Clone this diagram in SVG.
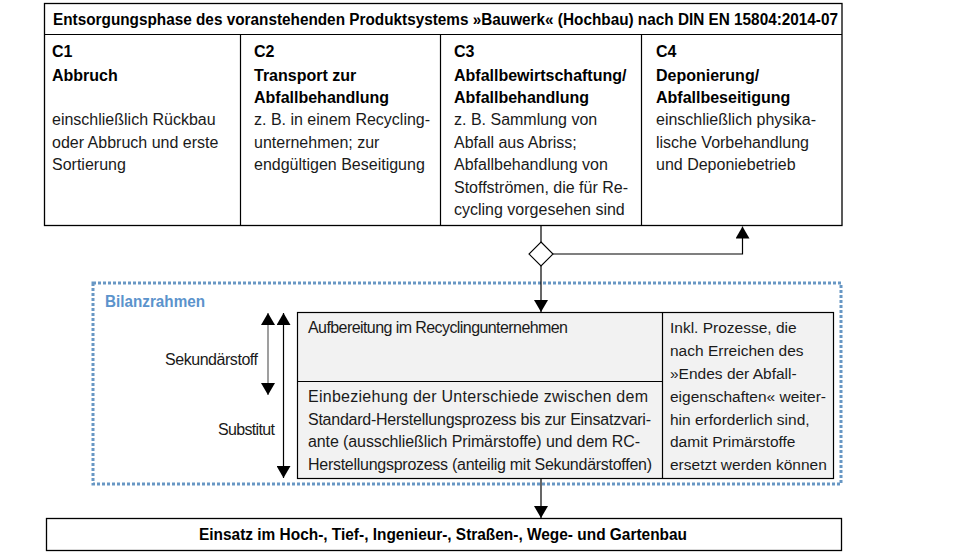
<svg xmlns="http://www.w3.org/2000/svg" width="960" height="552" viewBox="0 0 960 552">
<defs>
<style>
text{font-family:"Liberation Sans",Arial,sans-serif;font-size:16px;fill:#1a1a1a}
.b{font-weight:bold;fill:#000}
.s{font-size:15.5px}
.box{fill:#fff;stroke:#000;stroke-width:1.3}
.gbox{fill:#f2f2f2;stroke:#000;stroke-width:1.2}
.ln{fill:none;stroke:#000;stroke-width:1.2}
.blue{fill:#5b93cc;font-weight:bold}
</style>
<marker id="ah" viewBox="0 0 12 14" refX="12" refY="7" markerWidth="12" markerHeight="14" markerUnits="userSpaceOnUse" orient="auto-start-reverse">
<path d="M0,0 L12,7 L0,14 Z" fill="#000"/>
</marker>
</defs>
<rect width="960" height="552" fill="#fff"/>

<g id="top-box">
<rect class="box" x="44.5" y="3.5" width="797.5" height="222"/>
<line class="ln" x1="44.5" y1="34.5" x2="842" y2="34.5"/>
<line class="ln" x1="240.5" y1="34.5" x2="240.5" y2="225.5"/>
<line class="ln" x1="440.5" y1="34.5" x2="440.5" y2="225.5"/>
<line class="ln" x1="641.5" y1="34.5" x2="641.5" y2="225.5"/>
<text class="b" x="53" y="25" textLength="785" lengthAdjust="spacingAndGlyphs">Entsorgungsphase des voranstehenden Produktsystems »Bauwerk« (Hochbau) nach DIN EN 15804:2014-07</text>
</g>

<g id="c1">
<text class="b" x="52" y="57">C1</text>
<text class="b" x="52" y="81">Abbruch</text>
<text x="52" y="125">einschließlich Rückbau</text>
<text x="52" y="148">oder Abbruch und erste</text>
<text x="52" y="170">Sortierung</text>
</g>

<g id="c2">
<text class="b" x="254" y="57">C2</text>
<text class="b" x="254" y="81">Transport zur</text>
<text class="b" x="254" y="103">Abfallbehandlung</text>
<text x="254" y="125">z. B. in einem Recycling-</text>
<text x="254" y="148">unternehmen; zur</text>
<text x="254" y="170">endgültigen Beseitigung</text>
</g>

<g id="c3">
<text class="b" x="454" y="57">C3</text>
<text class="b" x="454" y="81">Abfallbewirtschaftung/</text>
<text class="b" x="454" y="103">Abfallbehandlung</text>
<text x="454" y="125">z. B. Sammlung von</text>
<text x="454" y="148">Abfall aus Abriss;</text>
<text x="454" y="170">Abfallbehandlung von</text>
<text x="454" y="193">Stoffströmen,  die für Re-</text>
<text x="454" y="215">cycling vorgesehen sind</text>
</g>

<g id="c4">
<text class="b" x="656" y="57">C4</text>
<text class="b" x="656" y="81">Deponierung/</text>
<text class="b" x="656" y="103">Abfallbeseitigung</text>
<text x="656" y="125">einschließlich physika-</text>
<text x="656" y="148">lische Vorbehandlung</text>
<text x="656" y="170">und Deponiebetrieb</text>
</g>

<g id="bilanzrahmen">
<rect x="93" y="283" width="748" height="201" fill="none" stroke="#6897c4" stroke-width="3" stroke-dasharray="3 2"/>
<text class="blue" x="105" y="307" textLength="100" lengthAdjust="spacingAndGlyphs">Bilanzrahmen</text>
</g>

<g id="recycling-box">
<rect class="gbox" x="297.5" y="312.5" width="536" height="166"/>
<line class="ln" x1="297.5" y1="381.5" x2="662.5" y2="381.5"/>
<line class="ln" x1="662.5" y1="312.5" x2="662.5" y2="478.5"/>
<text x="308" y="333" textLength="260" lengthAdjust="spacing">Aufbereitung im Recyclingunternehmen</text>
<text x="308" y="402" textLength="340" lengthAdjust="spacing">Einbeziehung der Unterschiede zwischen dem</text>
<text x="308" y="424.5" textLength="343" lengthAdjust="spacing">Standard-Herstellungsprozess bis zur Einsatzvari-</text>
<text x="308" y="447" textLength="332" lengthAdjust="spacing">ante (ausschließlich Primärstoffe)  und dem RC-</text>
<text x="308" y="469.5" textLength="344" lengthAdjust="spacing">Herstellungsprozess (anteilig mit  Sekundärstoffen)</text>
<text class="s" x="670" y="333">Inkl. Prozesse, die</text>
<text class="s" x="670" y="356">nach Erreichen des</text>
<text class="s" x="670" y="379">»Endes der Abfall-</text>
<text class="s" x="670" y="402">eigenschaften« weiter-</text>
<text class="s" x="670" y="424.5">hin erforderlich sind,</text>
<text class="s" x="670" y="447">damit Primärstoffe</text>
<text class="s" x="670" y="469.5">ersetzt werden können</text>
</g>

<g id="labels">
<text x="258" y="365" text-anchor="end" textLength="93" lengthAdjust="spacing">Sekundärstoff</text>
<text x="275" y="435" text-anchor="end" textLength="57" lengthAdjust="spacing">Substitut</text>
</g>

<g id="einsatz">
<rect class="box" x="46.5" y="518.5" width="795" height="32"/>
<text class="b" x="443" y="540" text-anchor="middle" textLength="488" lengthAdjust="spacingAndGlyphs">Einsatz im Hoch-, Tief-, Ingenieur-, Straßen-, Wege- und Gartenbau</text>
</g>

<g id="decision">
<polygon points="541,242 553,254 541,266 529,254" fill="#fff" stroke="#000" stroke-width="1.1"/>
</g>

<g id="connectors">
<line class="ln" x1="541" y1="225.5" x2="541" y2="242"/>
<polyline class="ln" points="553,254 742.5,254 742.5,226.5" marker-end="url(#ah)"/>
<line class="ln" x1="541" y1="266" x2="541" y2="312" marker-end="url(#ah)"/>
<line class="ln" x1="541" y1="479" x2="541" y2="518" marker-end="url(#ah)"/>
<line x1="268" y1="313" x2="268" y2="395" stroke="#7f7f7f" stroke-width="1.5" marker-start="url(#ah)" marker-end="url(#ah)"/>
<line x1="283.5" y1="313" x2="283.5" y2="478" stroke="#000" stroke-width="1.2" marker-start="url(#ah)" marker-end="url(#ah)"/>
</g>
</svg>
